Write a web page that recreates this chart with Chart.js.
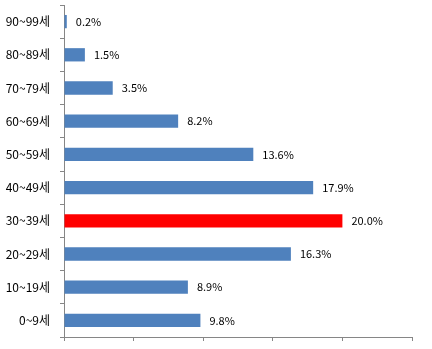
<!DOCTYPE html>
<html>
<head>
<meta charset="utf-8">
<script src="https://cdn.jsdelivr.net/npm/chart.js@4/dist/chart.umd.min.js"></script>
<style>
  html, body { margin: 0; padding: 0; background: #fff; }
  #wrap { width: 432px; height: 349px; position: relative; }
</style>
</head>
<body>
<div id="wrap"><canvas id="c"></canvas></div>
<script>
// Age groups, top to bottom
const ageGroups = ['90~99세', '80~89세', '70~79세', '60~69세', '50~59세', '40~49세', '30~39세', '20~29세', '10~19세', '0~9세'];
// Share of each group, percent
const shares = [0.2, 1.5, 3.5, 8.2, 13.6, 17.9, 20.0, 16.3, 8.9, 9.8];
// The largest group is highlighted
const highlightGroup = '30~39세';

const FONT = '"Noto Sans CJK KR", "Noto Sans", sans-serif';
const blue = '#4F81BD';
const red = '#FF0000';
const axisGray = '#868686';

const valueLabels = {
  id: 'valueLabels',
  afterDatasetsDraw(chart) {
    const ctx = chart.ctx;
    const meta = chart.getDatasetMeta(0);
    ctx.save();
    ctx.font = '11px ' + FONT;
    ctx.fillStyle = '#000';
    ctx.textAlign = 'left';
    ctx.textBaseline = 'middle';
    meta.data.forEach((bar, i) => {
      ctx.fillText(shares[i].toFixed(1) + '%', bar.x + 9, bar.y);
    });
    ctx.restore();
  }
};

new Chart(document.getElementById('c'), {
  type: 'bar',
  data: {
    labels: ageGroups,
    datasets: [{
      data: shares,
      backgroundColor: ageGroups.map(g => g === highlightGroup ? red : blue),
      borderWidth: 0,
      barPercentage: 0.4,
      categoryPercentage: 1.0
    }]
  },
  options: {
    indexAxis: 'y',
    responsive: true,
    maintainAspectRatio: false,
    animation: false,
    layout: { padding: { top: 5, right: 20, left: 0, bottom: 0 } },
    plugins: { legend: { display: false }, tooltip: { enabled: false } },
    scales: {
      x: {
        min: 0, max: 25,
        ticks: { stepSize: 5, color: 'rgba(0,0,0,0)', font: { size: 1 } },
        grid: { drawOnChartArea: false, drawTicks: true, tickLength: 4, color: axisGray },
        border: { color: axisGray, width: 1 },
        afterFit(scale) {
          scale.height = 12;
          scale.paddingLeft = 0; scale.paddingRight = 0;
          scale.paddingTop = 0; scale.paddingBottom = 0;
        }
      },
      y: {
        ticks: { color: '#000', font: { family: FONT, size: 12 }, padding: 10 },
        grid: { drawOnChartArea: false, drawTicks: true, tickLength: 4, color: axisGray, offset: true },
        border: { color: axisGray, width: 1 },
        afterFit(scale) {
          scale.width = 64;
          scale.paddingTop = 0; scale.paddingBottom = 0;
          scale.paddingLeft = 0; scale.paddingRight = 0;
        }
      }
    }
  },
  plugins: [valueLabels]
});
</script>
</body>
</html>
